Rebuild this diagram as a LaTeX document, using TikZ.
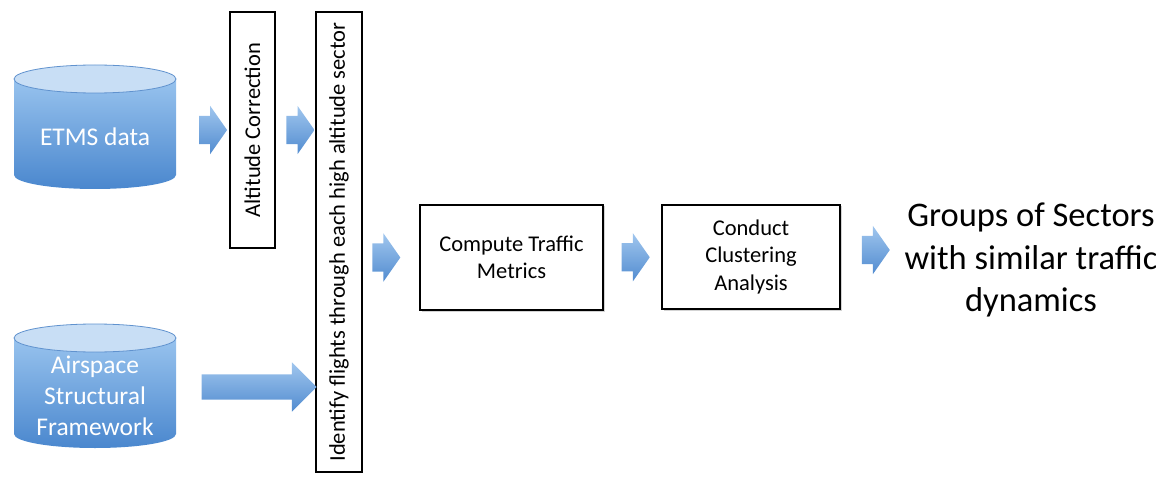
\documentclass[tikz,border=0pt]{standalone}
\usepackage{fontspec}
\setmainfont{Carlito}
\usetikzlibrary{shapes,shapes.arrows,calc,shadows}
\definecolor{dblight}{RGB}{152,195,238}
\definecolor{dbdark}{RGB}{74,135,206}
\definecolor{dbcapc}{RGB}{200,222,245}
\definecolor{dbline}{RGB}{96,146,206}
\definecolor{flowlight}{RGB}{160,198,238}
\definecolor{flowdark}{RGB}{82,140,208}
\pgfdeclarelayer{bg}
\pgfsetlayers{bg,main}
\tikzstyle{dbnode}=[minimum width=162pt,minimum height=125pt,inner sep=0pt,text=white,align=center,font=\fontsize{25.5}{31}\selectfont]
\tikzstyle{stepbox}=[draw,line width=1.3pt,fill=white,inner sep=0pt,align=center,font=\fontsize{22.5}{27.5}\selectfont,drop shadow={shadow xshift=1.5pt,shadow yshift=-1.5pt,opacity=0.35}]
\tikzstyle{vbox}=[draw,line width=1.3pt,fill=white,inner sep=0pt,rotate=90,font=\fontsize{22.5}{26}\selectfont]
\tikzstyle{flow}=[single arrow,single arrow head extend=10pt,single arrow tip angle=110,inner xsep=0pt,inner ysep=14pt,minimum height=28pt,minimum width=48pt,top color=flowlight,bottom color=flowdark]
\tikzstyle{longflow}=[flow,single arrow head extend=12pt,single arrow tip angle=90,inner ysep=12.5pt,minimum height=115pt,minimum width=49pt]
\tikzstyle{result}=[align=center,font=\fontsize{34.5}{42.5}\selectfont]
\newcommand{\database}[1]{%
  \begin{pgfonlayer}{bg}
    \shade[top color=dblight,bottom color=dbdark] ($(#1.center)+(-81,58)$) -- ($(#1.center)+(-81,-38)$)
      arc[start angle=180,end angle=360,x radius=81,y radius=14] -- ($(#1.center)+(81,58)$) -- cycle;
    \filldraw[fill=dbcapc,draw=dbline,line width=0.8pt] ($(#1.center)+(0,58)$) ellipse[x radius=81,y radius=14];
  \end{pgfonlayer}}
\begin{document}
\begin{tikzpicture}[x=1pt,y=1pt]
    \useasboundingbox (0,0) rectangle (1156,480);

    \node[dbnode] (etms) at (95,343) {ETMS data};
    \node[dbnode] (air) at (95,84) {Airspace\\Structural\\Framework};
    \database{etms}
    \database{air}

    \node[vbox,minimum width=236pt,minimum height=45pt] (alt) at (252.5,350) {Altitude Correction};
    \node[vbox,minimum width=460pt,minimum height=46pt] (ident) at (339,238) {Identify flights through each high altitude sector};
    \node[stepbox,minimum width=183pt,minimum height=105pt] (compute) at (511.5,222.5) {Compute Traffic\\Metrics};
    \node[stepbox,minimum width=178pt,minimum height=104pt] (conduct) at (751,223) {Conduct\\Clustering\\Analysis};
    \node[result] (groups) at (1031,220) {Groups of Sectors\\with similar traffic\\dynamics};

    \path (etms.east) -- node[flow,pos=0.6,yshift=7pt] (f1) {} (etms.east -| alt.north);
    \path (alt.south) -- node[flow] (f2) {} (alt.south -| ident.north);
    \path (air.east) -- node[longflow,pos=0.55,yshift=9pt] (f3) {} (air.east -| ident.north);
    \path (compute.west -| ident.south) -- node[flow,pos=0.33] (f4) {} (compute.west);
    \path (compute.east) -- node[flow,pos=0.47] (f5) {} (conduct.west);
    \path (conduct.east) -- node[flow,yshift=7pt] (f6) {} (conduct.east -| groups.west);
\end{tikzpicture}
\end{document}
